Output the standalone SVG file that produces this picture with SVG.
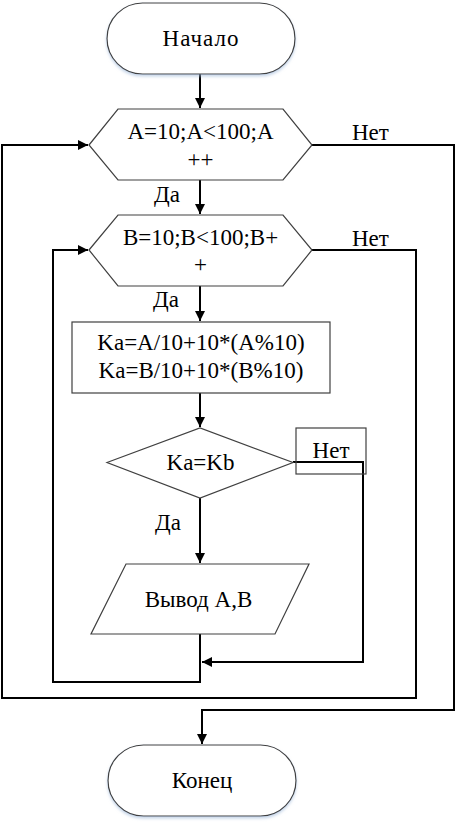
<svg xmlns="http://www.w3.org/2000/svg" width="455" height="826" viewBox="0 0 455 826">
<style>
.shape{fill:#fff;stroke:#404040;stroke-width:1.2}
.conn{fill:none;stroke:#000;stroke-width:2}
.t{font-family:'Liberation Serif','Times New Roman','DejaVu Serif',serif;font-size:23px;fill:#000}
.c{text-anchor:middle}
</style>
<defs>
<marker id="arr" viewBox="0 0 10 10" refX="10" refY="5" markerWidth="10" markerHeight="10" markerUnits="userSpaceOnUse" orient="auto">
<path d="M0,0 L10,5 L0,10 Z" fill="#000"/>
</marker>
<filter id="sh" x="-10%" y="-10%" width="120%" height="130%">
<feDropShadow dx="0" dy="2" stdDeviation="1.5" flood-color="#9db8d9" flood-opacity="0.6"/>
</filter>
</defs>
<rect width="455" height="826" fill="#fff"/>
<g id="connectors">
<path class="conn" d="M200,74 V108" marker-end="url(#arr)"/>
<path class="conn" d="M200,180 V214" marker-end="url(#arr)"/>
<path class="conn" d="M200,286 V321" marker-end="url(#arr)"/>
<path class="conn" d="M200,393 V427" marker-end="url(#arr)"/>
<path class="conn" d="M200,498 V563" marker-end="url(#arr)"/>
<path class="conn" d="M293,462 H363 V662 H202" marker-end="url(#arr)"/>
<path class="conn" d="M200,634 V682 H53 V250 H88" marker-end="url(#arr)"/>
<path class="conn" d="M312,250 H416 V698 H2 V145 H88" marker-end="url(#arr)"/>
<path class="conn" d="M312,145 H454 V710 H202 V744" marker-end="url(#arr)"/>
</g>
<g id="start">
<rect class="shape" x="107" y="3" width="188" height="71" rx="35.5" ry="35.5" filter="url(#sh)"/>
<text class="t c" x="201" y="46" letter-spacing="1">Начало</text>
</g>
<g id="loopA">
<polygon class="shape" points="89,145 118,109 283,109 312,145 283,180 118,180"/>
<text class="t c" x="200.5" y="139">A=10;A&lt;100;A</text>
<text class="t c" x="200.5" y="167">++</text>
</g>
<text class="t" x="352" y="140">Нет</text>
<text class="t" x="154" y="202">Да</text>
<g id="loopB">
<polygon class="shape" points="89,250 118,215 283,215 312,250 283,286 118,286"/>
<text class="t c" x="200.5" y="245">B=10;B&lt;100;B+</text>
<text class="t c" x="200.5" y="272">+</text>
</g>
<text class="t" x="352" y="246">Нет</text>
<text class="t" x="153" y="307">Да</text>
<g id="calc">
<rect class="shape" x="72" y="322" width="258" height="71"/>
<text class="t c" x="201" y="350">Ka=A/10+10*(A%10)</text>
<text class="t c" x="201" y="378">Ka=B/10+10*(B%10)</text>
</g>
<g id="cond">
<polygon class="shape" points="107,462.5 200,428 293,462.5 200,498"/>
<text class="t c" x="200.5" y="470">Ka=Kb</text>
</g>
<g id="netBox">
<rect x="296" y="428" width="70" height="46" fill="none" stroke="#404040" stroke-width="1.2"/>
<text class="t c" x="331" y="458">Нет</text>
</g>
<text class="t" x="155" y="530">Да</text>
<g id="output">
<polygon class="shape" points="126,564 309,564 275,634 91,634"/>
<text class="t c" x="198.5" y="607">Вывод A,B</text>
</g>
<g id="end">
<rect class="shape" x="108" y="745" width="188" height="71" rx="35.5" ry="35.5" filter="url(#sh)"/>
<text class="t c" x="202" y="788">Конец</text>
</g>
</svg>
